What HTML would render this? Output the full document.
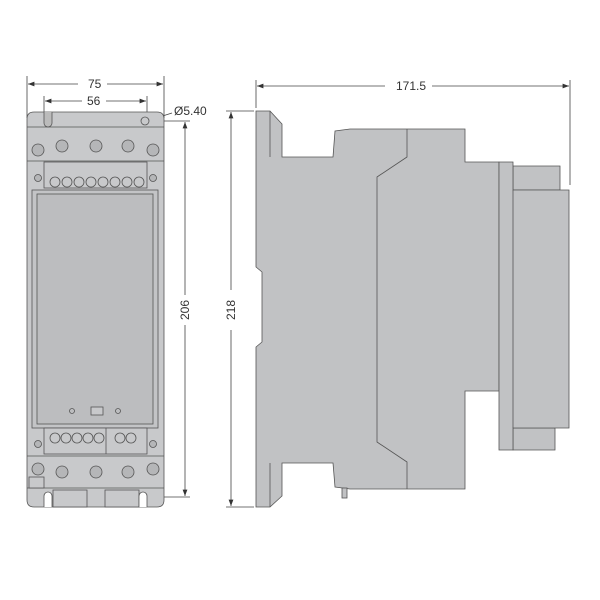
<!DOCTYPE html>
<html><head><style>body{margin:0;background:#fff}svg{display:block}text{font-family:"Liberation Sans",sans-serif;font-size:12px;fill:#333}</style></head><body>
<svg width="600" height="600" viewBox="0 0 600 600" xmlns="http://www.w3.org/2000/svg">
<defs><marker id="a" markerWidth="8" markerHeight="6" refX="8" refY="3" orient="auto-start-reverse"><path d="M0,0 L8,3 L0,6z" fill="#333"/></marker></defs>
<g stroke="#444" stroke-width="0.8" fill="none">
<!-- front dims -->
<line x1="27" y1="76" x2="27" y2="118"/><line x1="164" y1="76" x2="164" y2="118"/>
<line x1="28" y1="84" x2="78" y2="84" marker-start="url(#a)"/><line x1="107" y1="84" x2="163" y2="84" marker-end="url(#a)"/>
<line x1="44" y1="96" x2="44" y2="114"/><line x1="147" y1="96" x2="147" y2="114"/>
<line x1="45" y1="101" x2="82" y2="101" marker-start="url(#a)"/><line x1="106" y1="101" x2="146" y2="101" marker-end="url(#a)"/>
<line x1="150" y1="120" x2="172" y2="113"/>
<line x1="150" y1="121" x2="190" y2="121"/><line x1="150" y1="497" x2="190" y2="497"/>
<line x1="185" y1="122" x2="185" y2="295" marker-start="url(#a)"/><line x1="185" y1="325" x2="185" y2="496" marker-end="url(#a)"/>
<!-- side dims -->
<line x1="256" y1="80" x2="256" y2="108"/><line x1="570" y1="80" x2="570" y2="185"/>
<line x1="257" y1="86" x2="385" y2="86" marker-start="url(#a)"/><line x1="432" y1="86" x2="569" y2="86" marker-end="url(#a)"/>
<line x1="226" y1="111" x2="254" y2="111"/><line x1="226" y1="507" x2="254" y2="507"/>
<line x1="231" y1="112" x2="231" y2="290" marker-start="url(#a)"/><line x1="231" y1="330" x2="231" y2="506" marker-end="url(#a)"/>
</g>
<text x="88" y="88">75</text><text x="87" y="105">56</text><text x="174" y="115">Ø5.40</text>
<text x="396" y="90">171.5</text>
<text transform="translate(189,310) rotate(-90)" text-anchor="middle">206</text>
<text transform="translate(235,310) rotate(-90)" text-anchor="middle">218</text>
<!-- front view -->
<g stroke="#555" stroke-width="0.8" fill="#c8c9cb">
<path d="M34,112 H157 Q164,112 164,119 V500 Q164,507 157,507 H34 Q27,507 27,500 V119 Q27,112 34,112z"/>
<line x1="27" y1="127" x2="164" y2="127"/><line x1="27" y1="161" x2="164" y2="161"/>
<rect x="44" y="162" width="103" height="26"/>
<rect x="32" y="190" width="126" height="238" fill="#c3c4c6"/>
<rect x="37" y="194" width="116" height="230" fill="#bcbdbf"/>
<rect x="44" y="428" width="103" height="26"/>
<line x1="106" y1="428" x2="106" y2="454"/>
<line x1="27" y1="456" x2="164" y2="456"/><line x1="27" y1="488" x2="164" y2="488"/>
<rect x="91" y="407" width="12" height="8"/>
<rect x="29" y="477" width="15" height="11"/>
<rect x="53" y="490" width="34" height="17"/><rect x="105" y="490" width="34" height="17"/>
<path d="M44,507 V496 A4,4 0 0 1 52,496 V507" fill="#fff"/>
<path d="M139,507 V496 A4,4 0 0 1 147,496 V507" fill="#fff"/>
<path d="M44,112 V123 A4,4 0 0 0 52,123 V112" fill="#bbb"/>
<circle cx="145" cy="121" r="4"/>
</g>
<g stroke="#555" stroke-width="0.8" fill="#b5b6b8">
<circle cx="38" cy="150" r="6"/><circle cx="62" cy="146" r="6"/><circle cx="96" cy="146" r="6"/><circle cx="128" cy="146" r="6"/><circle cx="153" cy="150" r="6"/>
<circle cx="38" cy="469" r="6"/><circle cx="62" cy="472" r="6"/><circle cx="96" cy="472" r="6"/><circle cx="128" cy="472" r="6"/><circle cx="153" cy="469" r="6"/>
<circle cx="38" cy="178" r="3.5"/><circle cx="153" cy="178" r="3.5"/><circle cx="38" cy="444" r="3.5"/><circle cx="153" cy="444" r="3.5"/>
</g>
<g stroke="#555" stroke-width="0.8" fill="none">
<circle cx="55" cy="182" r="5"/><circle cx="67" cy="182" r="5"/><circle cx="79" cy="182" r="5"/><circle cx="91" cy="182" r="5"/><circle cx="103" cy="182" r="5"/><circle cx="115" cy="182" r="5"/><circle cx="127" cy="182" r="5"/><circle cx="139" cy="182" r="5"/>
<circle cx="55" cy="438" r="5"/><circle cx="66" cy="438" r="5"/><circle cx="77" cy="438" r="5"/><circle cx="88" cy="438" r="5"/><circle cx="99" cy="438" r="5"/><circle cx="120" cy="438" r="5"/><circle cx="131" cy="438" r="5"/>
<circle cx="72" cy="411" r="2.5"/><circle cx="118" cy="411" r="2.5"/>
</g>
<!-- side view -->
<g stroke="#555" stroke-width="0.8" fill="#c1c2c4">
<path d="M513,166 H560 V190 H513z"/><path d="M513,428 H555 V450 H513z"/>
<path d="M256,111 H270 L282,124 V157 H333 L335,131 L350,129 H465 V162 H499 V391 H465 V489 H350 L335,487 L333,463 H282 V496 L270,507 H256 V347 L262,342 V272 L256,267z"/>
<path d="M499,162 H513 V190 H569 V428 H513 V450 H499z"/>
<line x1="270" y1="111" x2="270" y2="157"/><line x1="270" y1="463" x2="270" y2="507"/>
<path d="M407,129 V157 L377,177 V442 L407,462 V489" fill="none"/>
<line x1="513" y1="190" x2="513" y2="428"/>
<rect x="342" y="488" width="5" height="10"/>
</g>
</svg>
</body></html>
